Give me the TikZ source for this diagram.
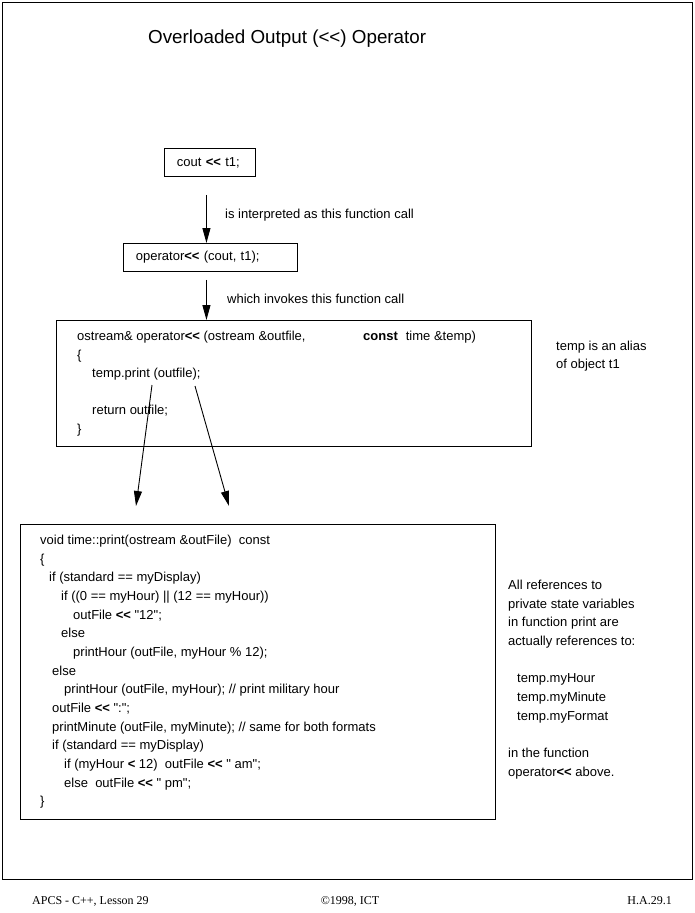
\documentclass[tikz,border=0pt]{standalone}
\usepackage{fontspec}
\setmainfont{Liberation Sans}[Ligatures=TeXOff]
\newfontfamily\footfont{Liberation Serif}[Ligatures=TeXOff]
\usetikzlibrary{arrows.meta,positioning}

\begin{document}
\begin{tikzpicture}[x=1pt,y=-1pt,>={Triangle[length=15pt,width=8pt]},
	box/.style={draw,line width=0.9pt,inner sep=0pt,anchor=north west,font=\fontsize{13pt}{15pt}\selectfont},
	callbox/.style={box,inner xsep=12.5pt,align=left,minimum height=28pt},
	lines/.style={anchor=north west,align=left,inner sep=0pt,font=\fontsize{13pt}{18.65pt}\selectfont},
	conn/.style={->,line width=0.9pt},
	foot/.style={inner sep=0pt,font=\footfont\fontsize{12pt}{14pt}\selectfont}]

	\useasboundingbox (0,0) rectangle (695,913);

	% outer frame and title
	\draw[line width=0.9pt] (2.5,2.5) rectangle (692,879);
	\node[anchor=west,inner sep=0pt,font=\fontsize{18.8pt}{22pt}\selectfont] (title) at (148,39) {Overloaded Output (<<) Operator};

	% the two small call boxes
	\node[callbox,text width=66pt] (cout) at (164,148) {cout \textbf{<<} t1;};
	\node[callbox,text width=149pt] (opcall) at (123,243) {operator\textbf{<<} (cout, t1);};

	% the operator<< function
	\node[box,minimum width=475pt,minimum height=126pt] (opfun) at (56,320) {};
	\node[lines,font=\fontsize{13pt}{18.5pt}\selectfont] (opcode) at (77,331) {%
		\makebox[286pt][l]{ostream\& operator\textbf{<<} (ostream \&outfile,}\textbf{const}\hspace{8pt}time \&temp)\\
		\{\\
		\hspace*{15pt}temp.print (outfile);\\
		\mbox{}\\
		\hspace*{15pt}return outfile;\\
		\}};
	\node[lines,font=\fontsize{13pt}{18pt}\selectfont] (alias) at (556,341) {temp is an alias\\of object t1};

	% the print function
	\node[box,minimum width=475pt,minimum height=295pt] (printfun) at (20,524) {};
	\node[lines] (printcode) at (40,535) {%
		void time::print(ostream \&outFile)\ \ const\\
		\{\\
		\hspace*{9pt}if (standard == myDisplay)\\
		\hspace*{21pt}if ((0 == myHour) || (12 == myHour))\\
		\hspace*{33pt}outFile \textbf{<<} "12";\\
		\hspace*{21pt}else\\
		\hspace*{33pt}printHour (outFile, myHour \% 12);\\
		\hspace*{12pt}else\\
		\hspace*{24pt}printHour (outFile, myHour); // print military hour\\
		\hspace*{12pt}outFile \textbf{<<} ":";\\
		\hspace*{12pt}printMinute (outFile, myMinute); // same for both formats\\
		\hspace*{12pt}if (standard == myDisplay)\\
		\hspace*{24pt}if (myHour \textbf{<} 12)\ \ outFile \textbf{<<} " am";\\
		\hspace*{24pt}else\ \ outFile \textbf{<<} " pm";\\
		\}};
	\node[lines] (refs) at (508,580) {%
		All references to\\
		private state variables\\
		in function print are\\
		actually references to:\\
		\mbox{}\\
		\hspace*{9pt}temp.myHour\\
		\hspace*{9pt}temp.myMinute\\
		\hspace*{9pt}temp.myFormat\\
		\mbox{}\\
		in the function\\
		operator\textbf{<<} above.};

	% arrows between the steps
	\draw[conn] ([xshift=206pt-209.5pt,yshift=-18pt]cout.south) -- ([xshift=-4pt]opcall.north)
		node[midway,right=15pt,yshift=4pt,font=\fontsize{13pt}{15pt}\selectfont] (lab1) {is interpreted as this function call};
	\draw[conn] ([xshift=-4pt,yshift=-8pt]opcall.south) -- ([xshift=-87.5pt]opfun.north)
		node[midway,right=17pt,yshift=1pt,font=\fontsize{13pt}{15pt}\selectfont] (lab2) {which invokes this function call};

	\coordinate (p1) at (152,385);
	\coordinate (q1) at (136,506);
	\coordinate (p2) at (195,386);
	\coordinate (q2) at (229,506);
	\draw[conn] (p1) -- (q1);
	\draw[conn] (p2) -- (q2);

	% footer
	\node[foot,anchor=base west] (lesson) at (32,904) {APCS - C++, Lesson 29};
	\node[foot,anchor=base] (copy) at (350,904) {©1998, ICT};
	\node[foot,anchor=base east] (page) at (672,904) {H.A.29.1};

\end{tikzpicture}
\end{document}
